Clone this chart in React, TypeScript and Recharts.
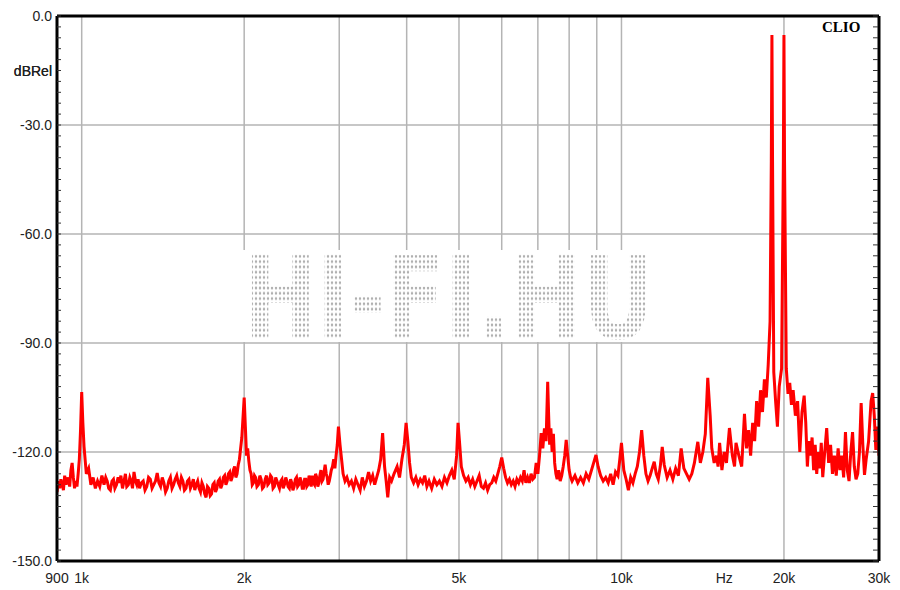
import React from "react";
import {
  LineChart,
  Line,
  XAxis,
  YAxis,
  ReferenceLine,
} from "recharts";

// FFT spectrum, [frequency Hz, level dBRel]
const lowBand: [number, number][] = [
  [900, -131], [905, -128], [910, -130], [915, -127.5], [920, -129], [925, -130.5], [930, -126.5],
  [935, -129], [940, -127], [945, -128], [950, -129.5], [955, -125], [960, -123], [965, -127],
  [970, -130], [975, -128], [980, -129.5], [985, -126], [990, -122], [995, -114], [1000, -103.5],
  [1005, -112], [1010, -118.5], [1020, -126], [1030, -124.5], [1040, -129], [1050, -127], [1060, -130],
  [1070, -128], [1080, -129.5], [1090, -126.5], [1100, -129], [1108, -127], [1115, -128], [1122, -130],
  [1130, -130.5], [1138, -128], [1145, -127.5], [1152, -130], [1160, -129], [1168, -127], [1175, -128.5],
  [1182, -126.5], [1190, -130], [1198, -128], [1205, -126], [1212, -129.5], [1220, -129], [1228, -127],
  [1235, -128], [1242, -130], [1250, -125.5], [1258, -128], [1265, -129], [1272, -127.5], [1280, -130],
  [1290, -128.5], [1300, -128], [1310, -130.5], [1320, -129.5], [1330, -127], [1340, -127.5], [1350, -130],
  [1360, -129], [1370, -128], [1380, -125.8], [1390, -128.5], [1400, -129.5], [1410, -127], [1420, -128.5],
  [1430, -131], [1440, -130], [1450, -128], [1460, -127], [1470, -130], [1480, -129], [1490, -127.5],
  [1500, -126.5], [1510, -128.5], [1520, -129.5], [1530, -127], [1540, -128], [1550, -130.5], [1560, -130],
  [1570, -128], [1580, -127.5], [1590, -130], [1600, -129], [1610, -127.5], [1620, -130.5], [1630, -129],
  [1640, -128], [1650, -130], [1660, -131], [1670, -128.5], [1680, -129.5], [1690, -131.5], [1700, -132.5],
  [1710, -129.5], [1720, -130], [1730, -132], [1740, -131.5], [1750, -129], [1760, -128.5], [1770, -131],
  [1780, -130], [1790, -128], [1800, -127.5], [1810, -130], [1820, -129], [1830, -127], [1840, -126.5],
  [1850, -129], [1860, -128], [1870, -126], [1880, -125.5], [1890, -128], [1900, -127], [1910, -125],
  [1920, -124], [1930, -127], [1940, -126], [1950, -123.5], [1960, -122], [1980, -116],
];

const midBand: [number, number][] = [
  [2000, -105], [2010, -113], [2020, -121], [2030, -119], [2040, -122.5], [2050, -125], [2060, -126],
  [2070, -129], [2080, -128.5], [2090, -126.5], [2100, -127], [2112, -129.5], [2125, -129], [2138, -126.5],
  [2150, -127.5], [2162, -130], [2175, -129.5], [2188, -127.5], [2200, -126.5], [2212, -129], [2225, -128.5],
  [2238, -126.5], [2250, -127], [2262, -130], [2275, -129.5], [2288, -127], [2300, -128], [2312, -129],
  [2325, -130], [2338, -128], [2350, -127.5], [2362, -130], [2375, -129], [2388, -127], [2400, -128],
  [2412, -129.5], [2425, -130], [2438, -127.5], [2450, -128.5], [2462, -130.5], [2475, -129.5], [2488, -127.5],
  [2500, -127], [2512, -129.5], [2525, -129], [2538, -127], [2550, -128], [2562, -130], [2575, -130],
  [2588, -127.5], [2600, -127.5], [2612, -129.5], [2625, -129], [2638, -126.5], [2650, -128], [2662, -129.5],
  [2675, -126.5], [2688, -128.5], [2700, -129], [2712, -126], [2725, -127], [2738, -129.5], [2750, -128.5],
  [2762, -126.5], [2775, -125], [2788, -128], [2800, -127.5], [2812, -125.5], [2825, -123.5], [2838, -126],
  [2850, -127], [2862, -129], [2875, -128], [2888, -126.5], [2900, -125], [2915, -124], [2930, -122],
  [2945, -124.5], [2960, -121], [2975, -118], [2990, -113], [3010, -118], [3030, -122], [3050, -126],
  [3075, -128], [3100, -127], [3130, -129], [3160, -128], [3190, -130], [3220, -127.5], [3250, -129],
  [3280, -130.5], [3310, -127], [3340, -129.5], [3370, -128], [3400, -125.5], [3430, -128], [3460, -126.5],
  [3490, -129], [3520, -127], [3550, -125], [3580, -122], [3610, -114.8], [3640, -124], [3665, -128],
  [3690, -132.5], [3720, -127], [3750, -128], [3790, -126], [3840, -124], [3880, -127], [3920, -122],
  [3960, -118], [3990, -112], [4020, -117], [4050, -123], [4080, -127], [4120, -128.5], [4160, -127],
  [4200, -129], [4240, -127.5], [4280, -128.5], [4320, -126.5], [4360, -129.5], [4400, -128], [4450, -130],
  [4500, -127.5], [4550, -129], [4600, -128], [4650, -129.5], [4700, -127], [4750, -128.5], [4800, -126.5],
  [4850, -125], [4900, -127.5], [4950, -121], [4980, -112], [5010, -117], [5050, -124],
];

const upperBand: [number, number][] = [
  [5100, -126.5], [5150, -128], [5200, -127], [5250, -129], [5300, -127.5], [5350, -129.5], [5400, -128],
  [5450, -126.5], [5500, -129.5], [5550, -130], [5600, -128.5], [5650, -130.5], [5700, -129], [5750, -128.5],
  [5800, -127], [5850, -128], [5900, -126], [5950, -124], [6000, -121.5], [6050, -124.5], [6100, -127],
  [6150, -128.5], [6200, -127.5], [6250, -129], [6300, -128], [6350, -129.5], [6400, -127.5], [6450, -128.5],
  [6500, -127], [6550, -128], [6600, -125], [6650, -128.5], [6700, -127], [6750, -128.5], [6800, -126],
  [6850, -127.5], [6900, -127], [6950, -123], [7000, -126], [7050, -121], [7100, -114.8], [7150, -119],
  [7200, -113.5], [7250, -117], [7300, -100.7], [7330, -110], [7360, -118], [7400, -113.5], [7440, -120],
  [7480, -115], [7520, -123], [7560, -126], [7600, -127.5], [7650, -125], [7700, -128], [7750, -126.5],
  [7800, -124], [7850, -121], [7900, -116.7], [7950, -121], [8000, -125], [8050, -127], [8100, -128],
  [8200, -126.5], [8300, -128.5], [8400, -127], [8500, -128.5], [8600, -126], [8700, -127.5], [8800, -125],
  [8900, -122.5], [8970, -120.8], [9050, -124], [9150, -126.5], [9250, -128], [9350, -127], [9450, -128.5],
  [9550, -126], [9650, -129], [9750, -125.5], [9850, -126.5], [9930, -122], [10000, -117.5],
];

const highBand: [number, number][] = [
  [10100, -125], [10200, -127.5], [10300, -130.5], [10400, -127], [10500, -128.5], [10600, -126], [10700, -124],
  [10800, -120], [10900, -114], [11000, -121], [11100, -126], [11200, -128], [11300, -126.5], [11400, -124.5],
  [11500, -122.7], [11600, -126], [11700, -127.5], [11800, -124], [11900, -118.6], [12000, -123.5], [12150, -127],
  [12300, -125], [12450, -127.5], [12600, -124.5], [12750, -126.5], [12900, -119], [13050, -124.5], [13200, -126],
  [13350, -127.5], [13500, -126], [13650, -123], [13850, -117.2], [14000, -123], [14150, -120], [14300, -115],
  [14450, -99.6], [14600, -110], [14700, -119], [14850, -123], [15000, -121], [15100, -124], [15200, -117.5],
  [15350, -125], [15500, -120], [15650, -123], [15850, -113.4], [16050, -121], [16200, -124], [16300, -117.5],
  [16500, -121], [16700, -124], [16900, -109.5], [17050, -119], [17200, -114], [17350, -121], [17500, -112],
  [17650, -117], [17800, -106], [17950, -113], [18100, -103], [18250, -109], [18400, -100], [18550, -105],
  [18700, -96], [18850, -84],
];

// the two test tones (19 kHz + 20 kHz) and the band above them
const carrierBand: [number, number][] = [
  [18950, -40], [19000, -5.2], [19050, -40], [19150, -98], [19300, -106], [19450, -113], [19600, -102],
  [19800, -97], [19950, -40], [20000, -5.2], [20050, -40], [20200, -97], [20350, -104], [20500, -101],
  [20650, -107], [20800, -103], [21000, -110], [21200, -106], [21400, -120], [21600, -109], [21800, -104.5],
  [21950, -112], [22100, -124], [22250, -117], [22400, -121], [22550, -116], [22700, -125], [22850, -118],
  [23000, -126], [23150, -120], [23300, -124.5], [23450, -117.5], [23600, -126.9], [23800, -120], [24000, -113.4],
  [24200, -123], [24400, -118], [24600, -126], [24800, -121], [25000, -126.5], [25200, -119], [25400, -125],
  [25600, -121], [25800, -127], [26000, -114.5], [26200, -125], [26400, -128], [26600, -120], [26800, -114.5],
  [27000, -124], [27200, -127.5], [27400, -126], [27600, -120], [27800, -106.5], [28000, -118], [28200, -126.3],
  [28400, -122], [28700, -117], [29000, -106], [29200, -103.8], [29400, -110], [29600, -119.4], [29800, -113],
  [30000, -121],
];

const xTicks = [900, 1000, 2000, 5000, 10000, 15500, 20000, 30000];
const xTickLabels: Record<number, string> = {
  900: "900", 1000: "1k", 2000: "2k", 5000: "5k", 10000: "10k", 15500: "Hz", 20000: "20k", 30000: "30k",
};
const gridHz = [1000, 2000, 3000, 4000, 5000, 6000, 7000, 8000, 9000, 10000, 20000];
const gridDb = [-30, -60, -90, -120];
const yTickLabels: Record<number, string> = {
  0: "0.0", [-15]: "dBRel", [-30]: "-30.0", [-60]: "-60.0", [-90]: "-90.0", [-120]: "-120.0", [-150]: "-150.0",
};

// minor ticks every 3 dB, as CLIO draws them
const yTicks: number[] = [];
for (let v = -150; v <= 0; v += 3) yTicks.push(v);
yTicks.push(-15);

const data = [...lowBand, ...midBand, ...upperBand, ...highBand, ...carrierBand].map(([f, db]) => ({ f, db }));

const FONT = "'Liberation Sans', Arial, sans-serif";

const LeftTick = (props: any) => {
  const { x, y, payload } = props;
  const label = yTickLabels[payload.value];
  const isMinor = payload.value % 3 === 0;
  return (
    <g>
      {isMinor && <line x1={x + 5} x2={x + 9} y1={y} y2={y} stroke="#333" strokeWidth={1} />}
      {label && (
        <text x={x} y={y} dy="0.36em" textAnchor="end" fontSize={14} fontFamily={FONT} fill="#222">
          {label}
        </text>
      )}
    </g>
  );
};

const RightTick = (props: any) => {
  const { x, y, payload } = props;
  if (payload.value % 3 !== 0) return <g />;
  return <line x1={x - 6} x2={x - 1} y1={y} y2={y} stroke="#333" strokeWidth={1} />;
};

const BottomTick = (props: any) => {
  const { x, y, payload } = props;
  return (
    <text x={x} y={y + 20} textAnchor="middle" fontSize={14} fontFamily={FONT} fill="#222">
      {xTickLabels[payload.value]}
    </text>
  );
};

export default function App() {
  return (
    <div style={{ position: "absolute", left: 0, top: 0, width: 900, height: 590, background: "#fff" }}>
      <LineChart width={900} height={590} data={data} margin={{ top: 15, right: 20, bottom: 0, left: 0 }}>
        <XAxis
          xAxisId="main"
          dataKey="f"
          type="number"
          scale="log"
          domain={[900, 30000]}
          allowDataOverflow
          ticks={xTicks}
          interval={0}
          height={29}
          tickSize={0}
          tickMargin={2}
          tick={<BottomTick />}
          tickLine={false}
          axisLine={{ stroke: "#000", strokeWidth: 3 }}
        />
        <XAxis
          xAxisId="top"
          orientation="top"
          dataKey="f"
          type="number"
          scale="log"
          domain={[900, 30000]}
          allowDataOverflow
          height={1}
          tick={false}
          tickLine={false}
          axisLine={{ stroke: "#000", strokeWidth: 3 }}
        />
        <YAxis
          yAxisId="left"
          type="number"
          domain={[-150, 0]}
          allowDataOverflow
          ticks={yTicks}
          interval={0}
          width={57}
          tickSize={0}
          tickMargin={5}
          tick={<LeftTick />}
          tickLine={false}
          axisLine={{ stroke: "#000", strokeWidth: 3 }}
        />
        <YAxis
          yAxisId="right"
          orientation="right"
          type="number"
          domain={[-150, 0]}
          allowDataOverflow
          ticks={yTicks}
          interval={0}
          width={1}
          tickSize={0}
          tickMargin={0}
          tick={<RightTick />}
          tickLine={false}
          axisLine={{ stroke: "#000", strokeWidth: 3 }}
        />
        {gridHz.map((f) => (
          <ReferenceLine key={`gx${f}`} xAxisId="main" yAxisId="left" x={f} stroke="#b4b4b4" strokeWidth={1.5} />
        ))}
        {gridDb.map((v) => (
          <ReferenceLine key={`gy${v}`} xAxisId="main" yAxisId="left" y={v} stroke="#b4b4b4" strokeWidth={1.5} />
        ))}
        <Line
          xAxisId="main"
          yAxisId="left"
          type="linear"
          dataKey="db"
          stroke="#ff0000"
          strokeWidth={3}
          strokeLinejoin="miter"
          dot={false}
          activeDot={false}
          isAnimationActive={false}
        />
      </LineChart>
      <div
        style={{
          position: "absolute",
          left: 822,
          top: 19,
          fontFamily: "'Liberation Serif', 'Times New Roman', serif",
          fontWeight: "bold",
          fontSize: 15,
          color: "#000",
        }}
      >
        CLIO
      </div>
      <svg style={{ position: "absolute", left: 222, top: 222 }} width={454} height={150}>
        <defs>
          <pattern id="wmDots" width="4" height="4" patternUnits="userSpaceOnUse">
            <circle cx="2" cy="2" r="1.2" fill="#b0b0b0" />
          </pattern>
        </defs>
        <rect x={10} y={28} width={434} height={92} fill="#fff" />
        <g transform="scale(1,1.32)">
          <text
            x={22}
            y={88}
            fontSize={87}
            fontWeight="bold"
            fontFamily="'DejaVu Sans', sans-serif"
            fill="url(#wmDots)"
          >
            HI-FI.HU
          </text>
        </g>
      </svg>
    </div>
  );
}
